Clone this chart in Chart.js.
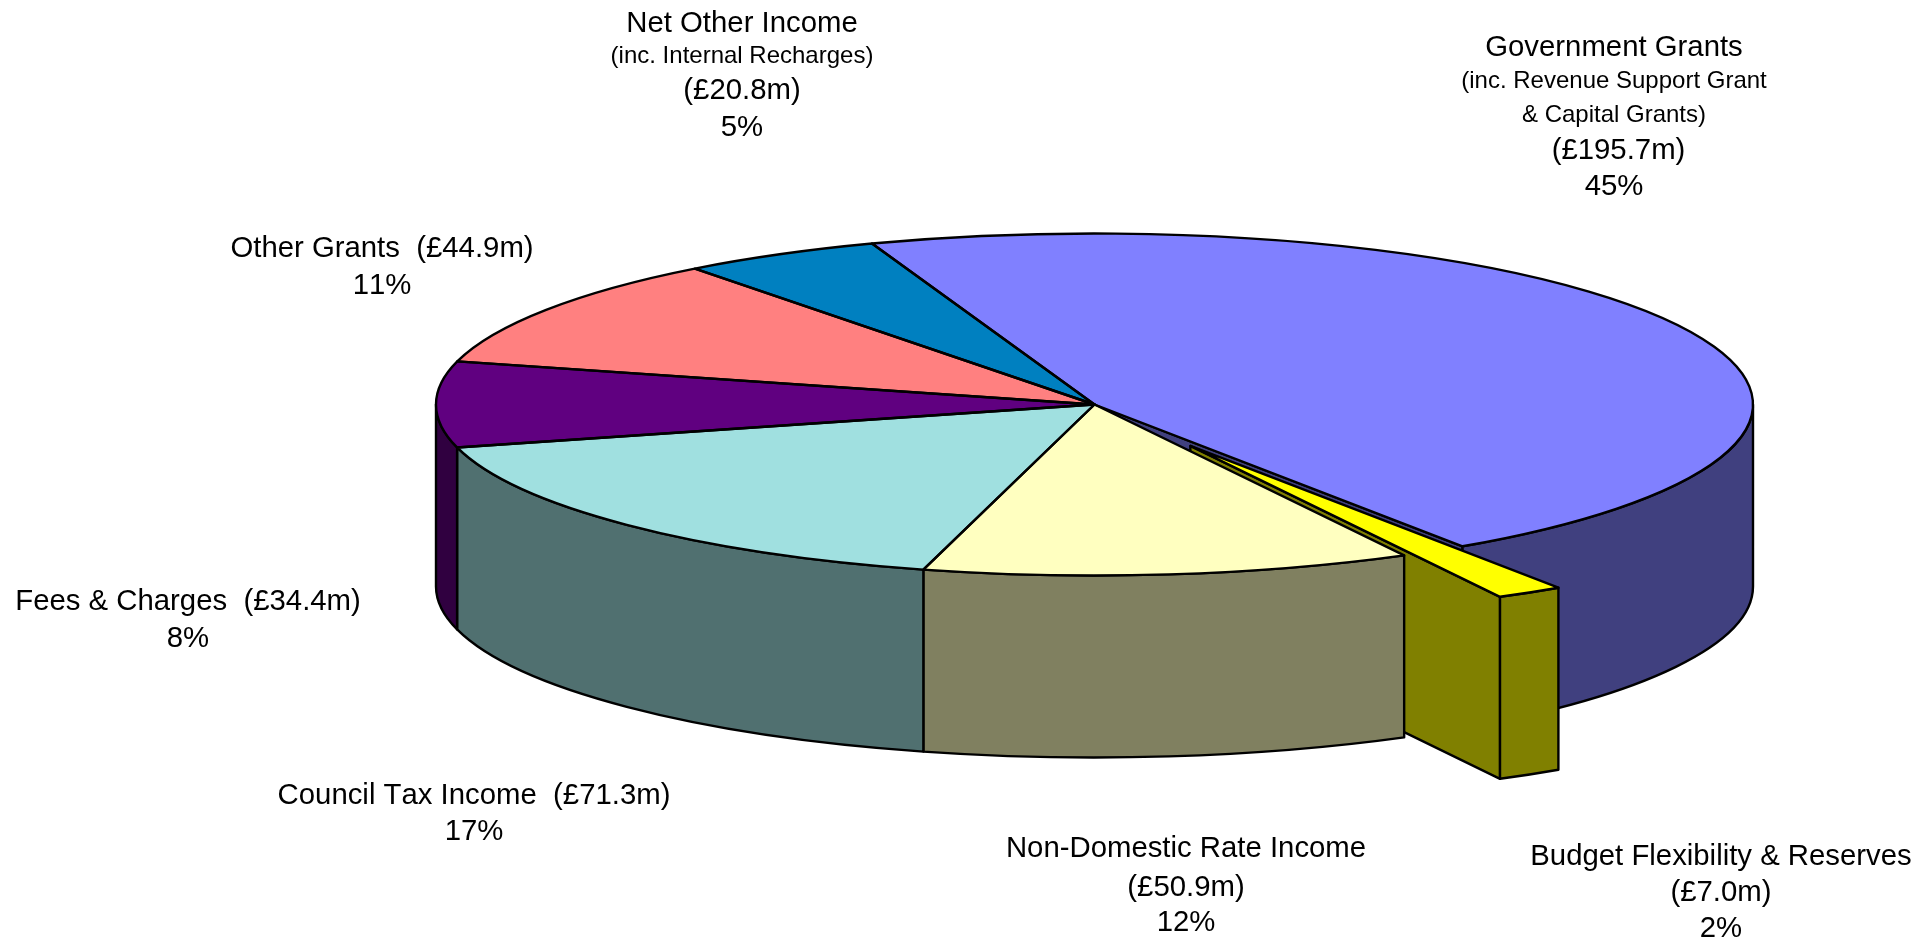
<!DOCTYPE html>
<html>
<head>
<meta charset="utf-8">
<style>html,body{margin:0;padding:0;background:#fff}canvas{display:block}</style>
<script src="https://cdn.jsdelivr.net/npm/chart.js@4"></script>
</head>
<body>
<canvas id="c" width="1932" height="940"></canvas>
<script>
const categories = ['Government Grants','Budget Flexibility & Reserves','Non-Domestic Rate Income','Council Tax Income','Fees & Charges','Other Grants','Net Other Income'];
const amounts = [195.7,7.0,50.9,71.3,34.4,44.9,20.8];
const percents = [45,2,12,17,8,11,5];
const topColors = ['#8080FF','#FFFF00','#FFFFC0','#A0E0E0','#600080','#FF8080','#0080C0'];
const sideColors = ['#40407F','#808000','#808060','#507070','#300040','#804040','#004060'];
const explode = [0,113,0,0,0,0,0];

// Layout of the pseudo-3D projection and the text blocks
const view = {cx:1094.5, cy:404.5, rx:658.5, ry:171, depth:182, radius:400};
const MAIN = '29.33px "Liberation Sans", Arial, sans-serif';
const SMALL = '24px "Liberation Sans", Arial, sans-serif';
const labelBlocks = [
  {x:1614, lines:[[categories[0],MAIN,56],['(inc. Revenue Support Grant',SMALL,88],['& Capital Grants)',SMALL,122],[amt(0),MAIN,159,1618.5],[pct(0),MAIN,195]]},
  {x:1721, lines:[[categories[1],MAIN,865],[amt(1),MAIN,901],[pct(1),MAIN,937]]},
  {x:1186, lines:[[categories[2],MAIN,857],[amt(2),MAIN,896],[pct(2),MAIN,931]]},
  {x:474,  lines:[[categories[3]+'  '+amt(3),MAIN,804],[pct(3),MAIN,840]]},
  {x:188,  lines:[[categories[4]+'  '+amt(4),MAIN,610],[pct(4),MAIN,647]]},
  {x:382,  lines:[[categories[5]+'  '+amt(5),MAIN,257],[pct(5),MAIN,294]]},
  {x:742,  lines:[[categories[6],MAIN,32],['(inc. Internal Recharges)',SMALL,63],[amt(6),MAIN,99],[pct(6),MAIN,136]]}
];
function amt(i){return '(£'+amounts[i].toFixed(1)+'m)';}
function pct(i){return percents[i]+'%';}

const sx = view.rx/view.radius, sy = view.ry/view.radius;
function shift(arc,i){
  const off = explode[i], mid = (arc.startAngle+arc.endAngle)/2;
  return {x:view.cx+Math.cos(mid)*off*sx, y:view.cy+Math.sin(mid)*off*sy};
}
function outline(ctx){ctx.strokeStyle='#000';ctx.lineWidth=2.4;ctx.lineJoin='round';ctx.stroke();}

const pie3d = {
  id:'pie3d',
  afterDatasetsUpdate(chart){
    // move the exploded slice out along its own mid angle
    chart.getDatasetMeta(0).data.forEach((arc,i)=>{
      const mid = (arc.startAngle+arc.endAngle)/2;
      arc.x = chart.chartArea.left+chart.chartArea.width/2+Math.cos(mid)*explode[i];
      arc.y = chart.chartArea.top+chart.chartArea.height/2+Math.sin(mid)*explode[i];
    });
  },
  beforeDatasetsDraw(chart){
    const ctx = chart.ctx, arcs = chart.getDatasetMeta(0).data;
    ctx.save();
    arcs.forEach((arc,i)=>{
      const c = shift(arc,i), rx = arc.outerRadius*sx, ry = arc.outerRadius*sy;
      // radial cut face exposed next to an exploded slice
      if (explode[i] || explode[i+1]){
        const px = c.x+Math.cos(arc.endAngle)*rx, py = c.y+Math.sin(arc.endAngle)*ry;
        ctx.beginPath();
        ctx.moveTo(c.x,c.y);ctx.lineTo(px,py);ctx.lineTo(px,py+view.depth);ctx.lineTo(c.x,c.y+view.depth);ctx.closePath();
        ctx.fillStyle = sideColors[i];ctx.fill();outline(ctx);
      }
      // outer wall, front half only
      const a = Math.max(arc.startAngle,0), b = Math.min(arc.endAngle,Math.PI);
      if (b>a){
        ctx.beginPath();
        ctx.ellipse(c.x,c.y,rx,ry,0,a,b);
        ctx.ellipse(c.x,c.y+view.depth,rx,ry,0,b,a,true);
        ctx.closePath();
        ctx.fillStyle = sideColors[i];ctx.fill();outline(ctx);
      }
    });
    ctx.restore();
    ctx.save();
    ctx.translate(view.cx,view.cy);
    ctx.scale(sx,sy);
    ctx.translate(-arcs[0].x,-arcs[0].y);
  },
  afterDatasetsDraw(chart){
    const ctx = chart.ctx, arcs = chart.getDatasetMeta(0).data;
    ctx.restore();
    ctx.save();
    arcs.forEach((arc,i)=>{
      const c = shift(arc,i);
      ctx.beginPath();
      ctx.moveTo(c.x,c.y);
      ctx.ellipse(c.x,c.y,arc.outerRadius*sx,arc.outerRadius*sy,0,arc.startAngle,arc.endAngle);
      ctx.closePath();
      outline(ctx);
    });
    ctx.fillStyle='#000';ctx.textAlign='center';ctx.textBaseline='alphabetic';
    ctx.fontKerning='none';
    labelBlocks.forEach(b=>b.lines.forEach(([t,f,y,x])=>{ctx.font=f;ctx.fillText(t,x||b.x,y);}));
    ctx.restore();
  }
};

new Chart(document.getElementById('c'),{
  type:'pie',
  data:{labels:categories,datasets:[{data:amounts,backgroundColor:topColors,borderWidth:0,clip:false}]},
  options:{
    responsive:false,animation:false,rotation:-19.75,radius:view.radius,
    layout:{padding:0},
    plugins:{legend:{display:false},tooltip:{enabled:false}}
  },
  plugins:[pie3d]
});
</script>
</body>
</html>
